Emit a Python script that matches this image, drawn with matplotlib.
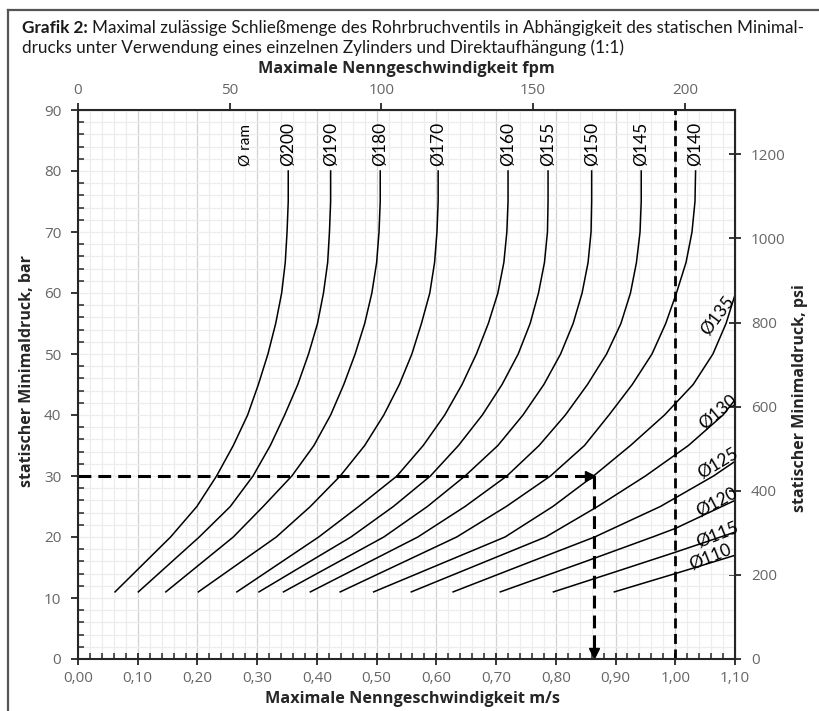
import matplotlib.pyplot as plt
from matplotlib.ticker import MultipleLocator, FixedLocator, FuncFormatter
from matplotlib.lines import Line2D

# Kurven: Geschwindigkeit (m/s) je statischem Minimaldruck (bar)
p_grid = [11, 20, 25, 30, 35, 40, 45, 50, 55, 60, 65, 70, 75, 80]
v200 = [0.062, 0.155, 0.199, 0.232, 0.260, 0.284, 0.302, 0.318, 0.331, 0.341, 0.347, 0.350, 0.352, 0.352]
v190 = [0.101, 0.203, 0.255, 0.293, 0.322, 0.346, 0.368, 0.386, 0.401, 0.411, 0.418, 0.421, 0.423, 0.423]
v180 = [0.147, 0.260, 0.310, 0.358, 0.395, 0.423, 0.445, 0.464, 0.480, 0.492, 0.500, 0.504, 0.506, 0.506]
v170 = [0.2015, 0.332, 0.389, 0.439, 0.480, 0.512, 0.538, 0.559, 0.575, 0.589, 0.597, 0.601, 0.603, 0.603]
v160 = [0.266, 0.403, 0.470, 0.534, 0.578, 0.614, 0.643, 0.667, 0.687, 0.703, 0.713, 0.718, 0.720, 0.720]
v155 = [0.303, 0.457, 0.528, 0.590, 0.637, 0.677, 0.710, 0.737, 0.757, 0.771, 0.781, 0.786, 0.787, 0.787]
v150 = [0.344, 0.512, 0.585, 0.648, 0.703, 0.745, 0.780, 0.808, 0.829, 0.844, 0.854, 0.859, 0.860, 0.860]
v145 = [0.389, 0.569, 0.648, 0.718, 0.772, 0.816, 0.853, 0.885, 0.909, 0.925, 0.935, 0.941, 0.943, 0.943]
v140 = [0.439, 0.634, 0.717, 0.791, 0.848, 0.889, 0.928, 0.961, 0.984, 1.002, 1.018, 1.028, 1.033, 1.034]

v135 = [0.495, 0.715, 0.795, 0.863, 0.925, 0.982, 1.030, 1.063, 1.085, 1.100]
p135 = [11, 20, 25, 30, 35, 40, 45, 50, 55, 59.7]
v130 = [0.558, 0.783, 0.870, 0.950, 1.022, 1.080, 1.100]
p130 = [11, 20, 25, 30, 35, 40, 42.5]
v125 = [0.628, 0.733, 0.865, 0.975, 1.064, 1.100]
p125 = [11, 15, 20, 25, 30, 32.4]
v120 = [0.707, 0.850, 0.962, 1.000, 1.078, 1.100]
p120 = [11, 16, 20, 21.4, 25, 26.0]
v115 = [0.796, 0.900, 1.000, 1.100]
p115 = [11, 14.3, 17.5, 20.8]
v110 = [0.898, 1.000, 1.100]
p110 = [11, 14.0, 17.0]

top_diameters = [200, 190, 180, 170, 160, 155, 150, 145, 140]
side_diameters = [135, 130, 125, 120, 115, 110]
side_label_x = [1.071, 1.072, 1.072, 1.070, 1.070, 1.058]
side_label_y = [56.3, 40.5, 32.1, 25.7, 20.3, 16.7]
side_label_rot = [53, 40, 31, 28, 22, 22]

fpm_ticks = [0, 50, 100, 150, 200]
psi_ticks = [0, 200, 400, 600, 800, 1000, 1200]

curves = {200: (v200, p_grid), 190: (v190, p_grid), 180: (v180, p_grid), 170: (v170, p_grid),
          160: (v160, p_grid), 155: (v155, p_grid), 150: (v150, p_grid), 145: (v145, p_grid),
          140: (v140, p_grid), 135: (v135, p135), 130: (v130, p130), 125: (v125, p125),
          120: (v120, p120), 115: (v115, p115), 110: (v110, p110)}

# Ablesebeispiel
read_pressure = 30
read_speed = 0.864
limit_speed = 1.0

MS_TO_FPM = 196.85
BAR_TO_PSI = 14.5038

W, H = 820, 711
fig = plt.figure(figsize=(8.2, 7.11), dpi=100)
ax = fig.add_axes([78 / W, 1 - 659 / H, 657 / W, 549 / H])
ax.set_xlim(0, 1.1)
ax.set_ylim(0, 90)

ax.xaxis.set_major_locator(MultipleLocator(0.1))
ax.xaxis.set_minor_locator(MultipleLocator(0.02))
ax.yaxis.set_major_locator(MultipleLocator(10))
ax.yaxis.set_minor_locator(MultipleLocator(2))
ax.xaxis.set_major_formatter(FuncFormatter(lambda v, p: f"{v:.2f}".replace(".", ",")))
ax.grid(which="minor", color="#ededed", lw=0.9)
ax.grid(which="major", axis="y", color="#ededed", lw=0.9)
ax.grid(which="major", axis="x", color="#d2d2d2", lw=0.9)
ax.set_axisbelow(True)

for s in ax.spines.values():
    s.set_color("#262626")
    s.set_linewidth(1.5)
tick_col = "#666666"
ax.tick_params(which="major", direction="out", length=5, width=1.3, color="#262626",
               labelsize=11, labelcolor=tick_col)
ax.tick_params(which="minor", direction="in", length=4, width=1.1, color="#262626")
ax.tick_params(axis="x", which="major", direction="inout", length=8, pad=5)
ax.tick_params(axis="y", which="major", pad=7)

for d, (v, p) in curves.items():
    ax.plot(v, p, color="black", lw=1.1)

for d in top_diameters:
    ax.text(curves[d][0][-1], 80.8, f"Ø{d}", rotation=90, ha="center", va="bottom",
            fontsize=12.5, family="Lato")
ax.text(0.281, 80.8, "Ø ram", rotation=90, ha="center", va="bottom", fontsize=11, family="Lato")

for d, lx, ly, lr in zip(side_diameters, side_label_x, side_label_y, side_label_rot):
    ax.text(lx, ly, f"Ø{d}", rotation=lr, rotation_mode="anchor", ha="center", va="center",
            fontsize=12.5, family="Lato")

# gestrichelte Ablese-Linien
ax.plot([0, read_speed - 0.012], [read_pressure, read_pressure], color="black", lw=2.2,
        dashes=(4.2, 2.3))
ax.plot([read_speed - 0.006], [read_pressure], marker=">", color="black", ms=7)
ax.plot([read_speed, read_speed], [read_pressure, 1.8], color="black", lw=2.2, dashes=(4.2, 2.3))
ax.plot([read_speed], [1.0], marker="v", color="black", ms=7)
ax.plot([limit_speed, limit_speed], [0, 90], color="black", lw=2.0, dashes=(3.6, 2.0))

top = ax.secondary_xaxis("top", functions=(lambda v: v * MS_TO_FPM, lambda f: f / MS_TO_FPM))
top.xaxis.set_major_locator(FixedLocator(fpm_ticks))
top.tick_params(direction="out", length=5, width=1.3, color="#262626", labelsize=11,
                labelcolor=tick_col)
top.spines["top"].set_color("#262626")

right = ax.secondary_yaxis("right", functions=(lambda b: b * BAR_TO_PSI, lambda q: q / BAR_TO_PSI))
right.yaxis.set_major_locator(FixedLocator(psi_ticks))
right.tick_params(direction="inout", length=8, width=1.3, color="#262626", labelsize=11,
                  labelcolor=tick_col, pad=7.5)

for lbl in ax.get_xticklabels() + ax.get_yticklabels() + top.get_xticklabels() + right.get_yticklabels():
    lbl.set_family("Open Sans")

lab = dict(fontweight="bold", color="#262626", family="Open Sans", ha="center", va="center")
fig.text(413 / W, 1 - 699 / H, "Maximale Nenngeschwindigkeit m/s", fontsize=11.7, **lab)
fig.text(406 / W, 1 - 69 / H, "Maximale Nenngeschwindigkeit fpm", fontsize=11.7, **lab)
fig.text(27 / W, 1 - 371 / H, "statischer Minimaldruck, bar", fontsize=11.5, rotation=90, **lab)
fig.text(800 / W, 1 - 398 / H, "statischer Minimaldruck, psi", fontsize=11.5, rotation=90, **lab)

# Titel
title_size = 11.5
t1 = fig.text(22 / W, 1 - 33 / H, "Grafik 2:", fontsize=title_size, fontweight="bold",
              va="baseline", color="#1a1a1a", family="Lato")
t2 = fig.text(0, 0, "Maximal zulässige Schließmenge des Rohrbruchventils in Abhängigkeit des statischen Minimal-",
              fontsize=title_size, va="baseline", color="#1a1a1a", family="Lato")
t3 = fig.text(22 / W, 1 - 53 / H,
              "drucks unter Verwendung eines einzelnen Zylinders und Direktaufhängung (1:1)",
              fontsize=title_size, va="baseline", color="#1a1a1a", family="Lato")
renderer = fig.canvas.get_renderer()
b1 = t1.get_window_extent(renderer)
b2 = t2.get_window_extent(renderer)
scale = (803 - 22) / (b1.width + 4 + b2.width)
for t in (t1, t2, t3):
    t.set_fontsize(title_size * scale)
b1 = t1.get_window_extent(renderer)
t2.set_position(((b1.x1 + 4) / W, 1 - 33 / H))

# Rahmen
fig.add_artist(Line2D([8 / W, 8 / W], [0, 1 - 10 / H], color="#555555", lw=1.6))
fig.add_artist(Line2D([8 / W, 1], [1 - 10 / H, 1 - 10 / H], color="#555555", lw=1.6))

fig.savefig("out.png", dpi=100)
